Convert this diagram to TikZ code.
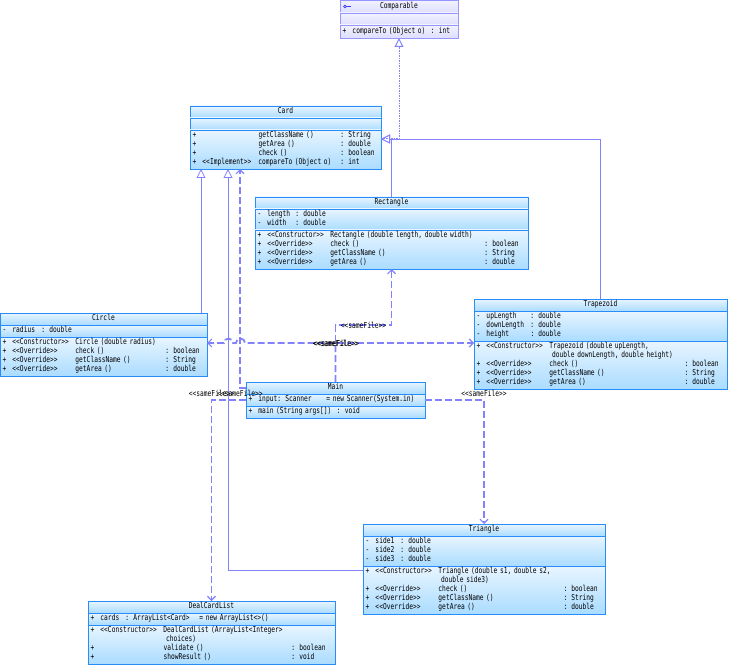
\documentclass[tikz,border=0pt]{standalone}
\usepackage{fontspec}
\newfontfamily\umlfont{DejaVu Sans Mono}[FakeStretch=0.76]
\usetikzlibrary{arrows.meta,positioning}
\definecolor{clsline}{RGB}{40,140,250}
\definecolor{clstop}{RGB}{232,245,255}
\definecolor{clsbot}{RGB}{170,220,255}
\definecolor{ifcline}{RGB}{150,150,255}
\definecolor{ifctop}{RGB}{242,242,255}
\definecolor{ifcbot}{RGB}{222,222,255}
\definecolor{ifcicon}{RGB}{60,60,240}
\definecolor{linkc}{RGB}{130,130,255}
\newcommand\umlsize{\umlfont\fontsize{8.2}{9}\selectfont}
\newlength\clsatw \newlength\clsstw \newlength\clsnmw
\newcommand\clscols[3]{\setlength\clsatw{#1}\setlength\clsstw{#2}\setlength\clsnmw{#3}}
\newcommand\stereo[1]{<{}<#1>{}>}
\newcommand\sameFile{\stereo{sameFile}}
\newcommand\clsattr[3]{\strut\makebox[10pt][l]{#1}\makebox[\clsatw][l]{#2}#3}
\newcommand\clsop[4]{\strut\makebox[10pt][l]{#1}\makebox[\clsstw][l]{#2}\makebox[\clsnmw][l]{#3}#4}
\begin{document}
\begin{tikzpicture}[x=1pt, y=-1pt,
    clshead/.style={draw=clsline, line width=0.8pt, top color=clstop, bottom color=clsbot,
                    inner xsep=2.5pt, inner ysep=1.5pt, outer sep=0pt, align=center,
                    font=\umlsize, execute at begin node=\strut},
    clspart/.style={clshead, align=left},
    clsempty/.style={clshead, execute at begin node={}, minimum height=10pt},
    ifcbox/.style={clshead, draw=ifcline, top color=ifctop, bottom color=ifcbot},
    genarrow/.style={draw=linkc, line width=0.8pt, -{Triangle[open, length=9pt, width=9pt]}},
    realarrow/.style={genarrow, line width=1pt, dash pattern=on 1.5pt off 1pt},
    deparrow/.style={draw=linkc, line width=1.8pt, dash pattern=on 7pt off 3pt,
                     -{Straight Barb[length=4pt, width=8pt, line width=1.2pt]}},
    deplabel/.style={font=\umlsize, inner sep=0pt}]
    \useasboundingbox (0,0) rectangle (729,666);

    \node[ifcbox, anchor=north west, text width=113pt, minimum height=13pt] (compt) at (340,0) {Comparable};
    \draw[ifcicon, line width=0.8pt] (345,6.5) circle (1.4pt) ++(1.4,0) -- ++(4.5,0);
    \node[ifcbox, execute at begin node={}, below=0pt of compt, text width=113pt, minimum height=11pt] (compa) {};
    \node[ifcbox, align=left, below=0pt of compa, text width=113pt, minimum height=13pt] (compm)
        {\makebox[10pt][l]{+}compareTo (Object o)\ \ : int};

    \node[clshead, anchor=north west, text width=186pt] (cardt) at (190,106) {Card};
    \node[clsempty, below=0pt of cardt, text width=186pt] (carda) {};
    \node[clspart, below=0pt of carda, text width=186pt] (cardm) {\clscols{0pt}{56pt}{82pt}%
        \clsop{+}{}{getClassName ()}{: String}\\
        \clsop{+}{}{getArea ()}{: double}\\
        \clsop{+}{}{check ()}{: boolean}\\
        \clsop{+}{\stereo{Implement}}{compareTo (Object o)}{: int}};

    \node[clshead, anchor=north west, text width=268pt] (rectt) at (255,197) {Rectangle};
    \node[clspart, below=0pt of rectt, text width=268pt] (recta) {\clscols{28pt}{63pt}{154pt}%
        \clsattr{-}{length}{: double}\\
        \clsattr{-}{width}{: double}};
    \node[clspart, below=0pt of recta, text width=268pt] (rectm) {\clscols{28pt}{63pt}{154pt}%
        \clsop{+}{\stereo{Constructor}}{Rectangle (double length, double width)}{}\\
        \clsop{+}{\stereo{Override}}{check ()}{: boolean}\\
        \clsop{+}{\stereo{Override}}{getClassName ()}{: String}\\
        \clsop{+}{\stereo{Override}}{getArea ()}{: double}};

    \node[clshead, anchor=north west, text width=202pt] (circt) at (0,313) {Circle};
    \node[clspart, below=0pt of circt, text width=202pt] (circa) {\clscols{29pt}{63pt}{90pt}%
        \clsattr{-}{radius}{: double}};
    \node[clspart, below=0pt of circa, text width=202pt] (circm) {\clscols{29pt}{63pt}{90pt}%
        \clsop{+}{\stereo{Constructor}}{Circle (double radius)}{}\\
        \clsop{+}{\stereo{Override}}{check ()}{: boolean}\\
        \clsop{+}{\stereo{Override}}{getClassName ()}{: String}\\
        \clsop{+}{\stereo{Override}}{getArea ()}{: double}};

    \node[clshead, anchor=north west, text width=248pt] (trapt) at (474,299) {Trapezoid};
    \node[clspart, below=0pt of trapt, text width=248pt] (trapa) {\clscols{44pt}{63pt}{135pt}%
        \clsattr{-}{upLength}{: double}\\
        \clsattr{-}{downLength}{: double}\\
        \clsattr{-}{height}{: double}};
    \node[clspart, below=0pt of trapa, text width=248pt] (trapm) {\clscols{44pt}{63pt}{135pt}%
        \clsop{+}{\stereo{Constructor}}{Trapezoid (double upLength,}{}\\
        \clsop{}{}{\ double downLength, double height)}{}\\
        \clsop{+}{\stereo{Override}}{check ()}{: boolean}\\
        \clsop{+}{\stereo{Override}}{getClassName ()}{: String}\\
        \clsop{+}{\stereo{Override}}{getArea ()}{: double}};

    \node[clshead, anchor=north west, text width=174pt] (maint) at (246,382) {Main};
    \node[clspart, below=0pt of maint, text width=174pt] (maina) {\clscols{19pt}{0pt}{0pt}%
        \clsattr{+}{input}{\makebox[49pt][l]{: Scanner}= new Scanner(System.in)}};
    \node[clspart, below=0pt of maina, text width=174pt] (mainm)
        {\makebox[10pt][l]{+}main (String args[])\ \ : void};

    \node[clshead, anchor=north west, text width=237pt] (trit) at (363,524) {Triangle};
    \node[clspart, below=0pt of trit, text width=237pt] (tria) {\clscols{25pt}{63pt}{125pt}%
        \clsattr{-}{side1}{: double}\\
        \clsattr{-}{side2}{: double}\\
        \clsattr{-}{side3}{: double}};
    \node[clspart, below=0pt of tria, text width=237pt] (trim) {\clscols{25pt}{63pt}{125pt}%
        \clsop{+}{\stereo{Constructor}}{Triangle (double s1, double s2,}{}\\
        \clsop{}{}{\ double side3)}{}\\
        \clsop{+}{\stereo{Override}}{check ()}{: boolean}\\
        \clsop{+}{\stereo{Override}}{getClassName ()}{: String}\\
        \clsop{+}{\stereo{Override}}{getArea ()}{: double}};

    \node[clshead, anchor=north west, text width=242pt] (dealt) at (88,601) {DealCardList};
    \node[clspart, below=0pt of dealt, text width=242pt] (deala) {\clscols{25pt}{63pt}{128pt}%
        \clsattr{+}{cards}{\makebox[74pt][l]{: ArrayList<Card>}= new ArrayList<>()}};
    \node[clspart, below=0pt of deala, text width=242pt] (dealm) {\clscols{25pt}{63pt}{128pt}%
        \clsop{+}{\stereo{Constructor}}{DealCardList (ArrayList<Integer>}{}\\
        \clsop{}{}{\ choices)}{}\\
        \clsop{+}{}{validate ()}{: boolean}\\
        \clsop{+}{}{showResult ()}{: void}};

    \coordinate (cardr) at ([yshift=-9pt]cardm.north east);
    \foreach \a in {rectt, trapt}
        \draw[genarrow] (\a.north) |- (cardr);
    \draw[genarrow] ([xshift=-6pt]circt.north east) -- ([xshift=-6pt]circt.north east |- cardm.south);
    \draw[genarrow] ([yshift=-4pt]trim.north west) -| ([xshift=38pt]cardm.south west);
    \draw[realarrow] (cardr) -| (compm.south);

    \draw[deparrow] (maint.west) -| node[deplabel, pos=0.5, yshift=-5pt] {\sameFile} ([xshift=50pt]cardm.south west);
    \draw[deparrow] (maina.west) -| node[deplabel, pos=0.5, yshift=6.5pt] {\sameFile} (dealt.north);
    \draw[deparrow] (maina.east) -| node[deplabel, pos=0.5, yshift=6.5pt] {\sameFile} (trit.north);
    \draw[deparrow] (maint.north) -- ++(0,-57) -| node[deplabel, pos=0.25] {\sameFile} (rectm.south);
    \draw[deparrow] (maint.north) |- node[deplabel, pos=0.5] {\sameFile} (245,343)
        arc[start angle=0, end angle=-180, radius=4.5] -- (233,343)
        arc[start angle=0, end angle=-180, radius=4.5] -- ([yshift=-6pt]circm.north east);
    \draw[deparrow] (maint.north) |- node[deplabel, pos=0.5, xshift=1pt] {\sameFile} ([yshift=-2pt]trapm.north west);
\end{tikzpicture}
\end{document}
